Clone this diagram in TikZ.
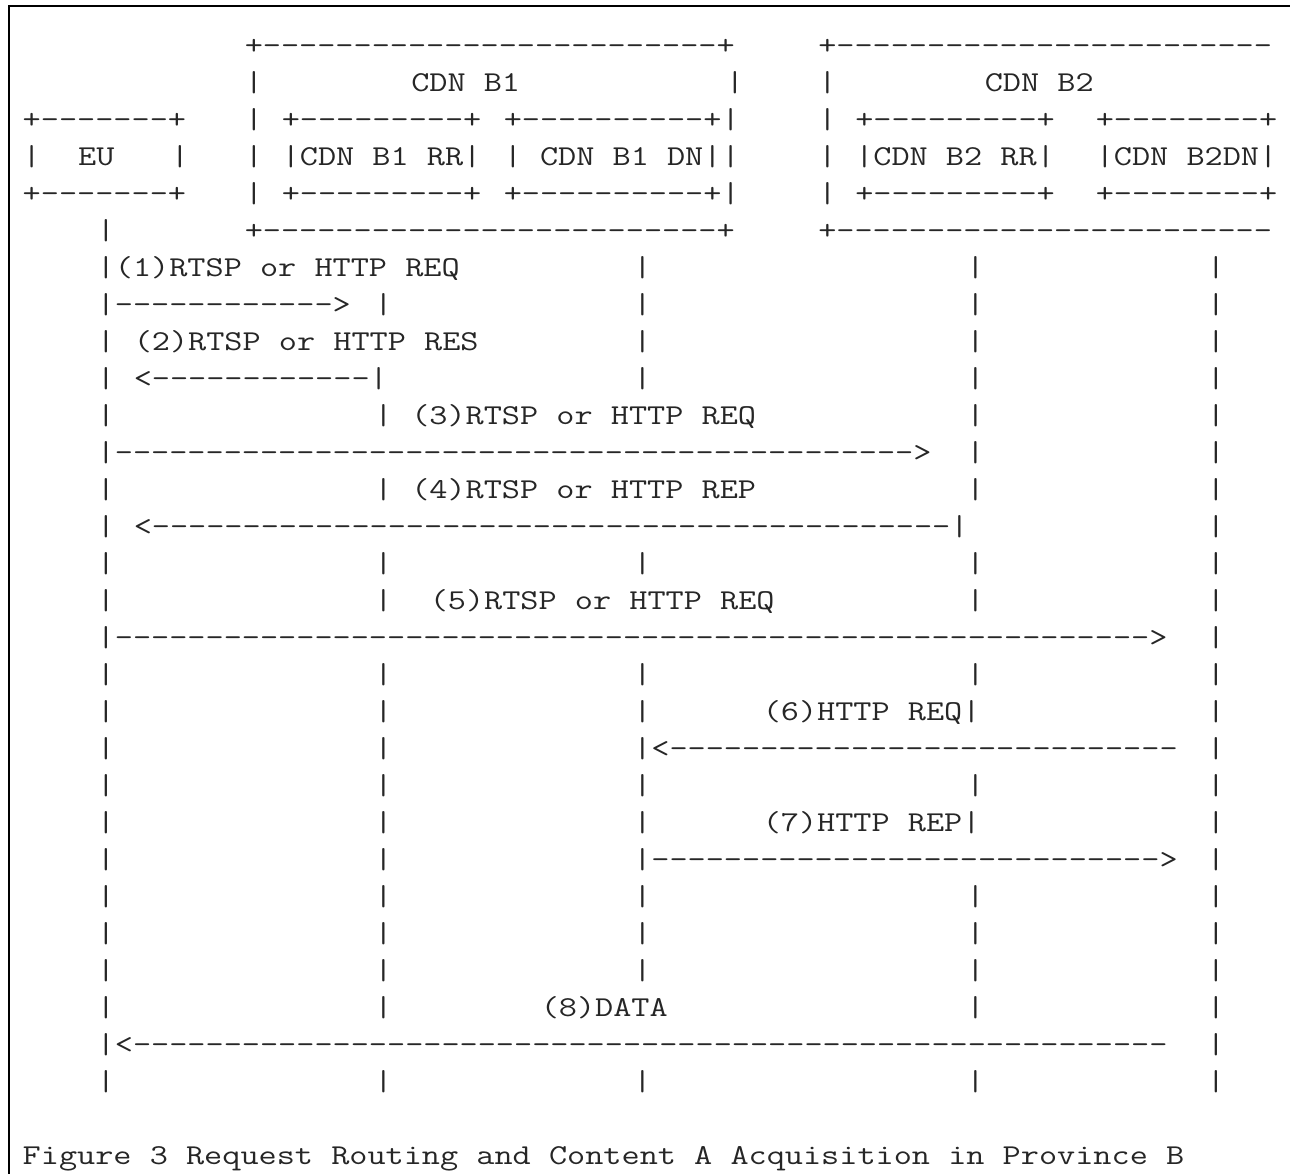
\documentclass[tikz,border=0pt]{standalone}
\usepackage{graphicx}
\newcommand\D[1]{\foreach\i in {1,...,#1}{\hbox{-}}}
\tikzset{
  txt/.style={anchor=base west, inner sep=0pt, outer sep=0pt, text=black!85,
    font=\ttfamily\fontsize{14.4}{17}\selectfont\frenchspacing},
  frame/.style={line width=1pt, draw=black}
}
\newcommand\seg[3]{\node[txt] (r#1c#2) at ({22.75+18.5*#2},{17+37*#1}) {\scalebox{1.223545}[1]{#3}};}
\newcommand\life[1]{\seg{#1}{4}{|}\seg{#1}{19}{|}\seg{#1}{33}{|}\seg{#1}{51}{|}\seg{#1}{64}{|}}
\begin{document}
\begin{tikzpicture}[x=0.5pt,y=-0.5pt]
\clip (0,0) rectangle (1290,1173);
\fill[white] (0,0) rectangle (1290,1173);
\draw[frame] (8.5,1200) -- (8.5,6) -- (1320,6);
% header boxes
\seg{1}{12}{+\D{25}+}
\seg{1}{43}{+\D{24}}
\seg{2}{12}{|}
\seg{2}{21}{CDN B1}
\seg{2}{38}{|}
\seg{2}{43}{|}
\seg{2}{52}{CDN B2}
\seg{3}{0}{+\D{7}+}
\seg{3}{12}{|}
\seg{3}{14}{+\D{9}+}
\seg{3}{26}{+\D{10}+|}
\seg{3}{43}{|}
\seg{3}{45}{+\D{9}+}
\seg{3}{58}{+\D{8}+}
\seg{4}{0}{|}
\seg{4}{3}{EU}
\seg{4}{8}{|}
\seg{4}{12}{|}
\seg{4}{14}{|CDN B1 RR|}
\seg{4}{26}{| CDN B1 DN||}
\seg{4}{43}{|}
\seg{4}{45}{|CDN B2 RR|}
\seg{4}{58}{|CDN B2DN|}
\seg{5}{0}{+\D{7}+}
\seg{5}{12}{|}
\seg{5}{14}{+\D{9}+}
\seg{5}{26}{+\D{10}+|}
\seg{5}{43}{|}
\seg{5}{45}{+\D{9}+}
\seg{5}{58}{+\D{8}+}
\seg{6}{4}{|}
\seg{6}{12}{+\D{25}+}
\seg{6}{43}{+\D{24}}
% messages
\seg{7}{4}{|(1)RTSP or HTTP REQ}
\seg{7}{33}{|}\seg{7}{51}{|}\seg{7}{64}{|}
\seg{8}{4}{|\D{12}>}
\seg{8}{19}{|}\seg{8}{33}{|}\seg{8}{51}{|}\seg{8}{64}{|}
\seg{9}{4}{|}
\seg{9}{6}{(2)RTSP or HTTP RES}
\seg{9}{33}{|}\seg{9}{51}{|}\seg{9}{64}{|}
\seg{10}{4}{|}
\seg{10}{6}{<\D{12}|}
\seg{10}{33}{|}\seg{10}{51}{|}\seg{10}{64}{|}
\seg{11}{4}{|}\seg{11}{19}{|}
\seg{11}{21}{(3)RTSP or HTTP REQ}
\seg{11}{51}{|}\seg{11}{64}{|}
\seg{12}{4}{|\D{44}>}
\seg{12}{51}{|}\seg{12}{64}{|}
\seg{13}{4}{|}\seg{13}{19}{|}
\seg{13}{21}{(4)RTSP or HTTP REP}
\seg{13}{51}{|}\seg{13}{64}{|}
\seg{14}{4}{|}
\seg{14}{6}{<\D{44}|}
\seg{14}{64}{|}
\life{15}
\seg{16}{4}{|}\seg{16}{19}{|}
\seg{16}{22}{(5)RTSP or HTTP REQ}
\seg{16}{51}{|}\seg{16}{64}{|}
\seg{17}{4}{|\D{57}>}
\seg{17}{64}{|}
\life{18}
\seg{19}{4}{|}\seg{19}{19}{|}\seg{19}{33}{|}
\seg{19}{40}{(6)HTTP REQ|}
\seg{19}{64}{|}
\seg{20}{4}{|}\seg{20}{19}{|}
\seg{20}{33}{|<\D{28}}
\seg{20}{64}{|}
\life{21}
\seg{22}{4}{|}\seg{22}{19}{|}\seg{22}{33}{|}
\seg{22}{40}{(7)HTTP REP|}
\seg{22}{64}{|}
\seg{23}{4}{|}\seg{23}{19}{|}
\seg{23}{33}{|\D{28}>}
\seg{23}{64}{|}
\life{24}
\life{25}
\life{26}
\seg{27}{4}{|}\seg{27}{19}{|}
\seg{27}{28}{(8)DATA}
\seg{27}{51}{|}\seg{27}{64}{|}
\seg{28}{4}{|<\D{57}}
\seg{28}{64}{|}
\life{29}
\seg{31}{0}{Figure 3 Request Routing and Content A Acquisition in Province B}
\end{tikzpicture}
\end{document}
